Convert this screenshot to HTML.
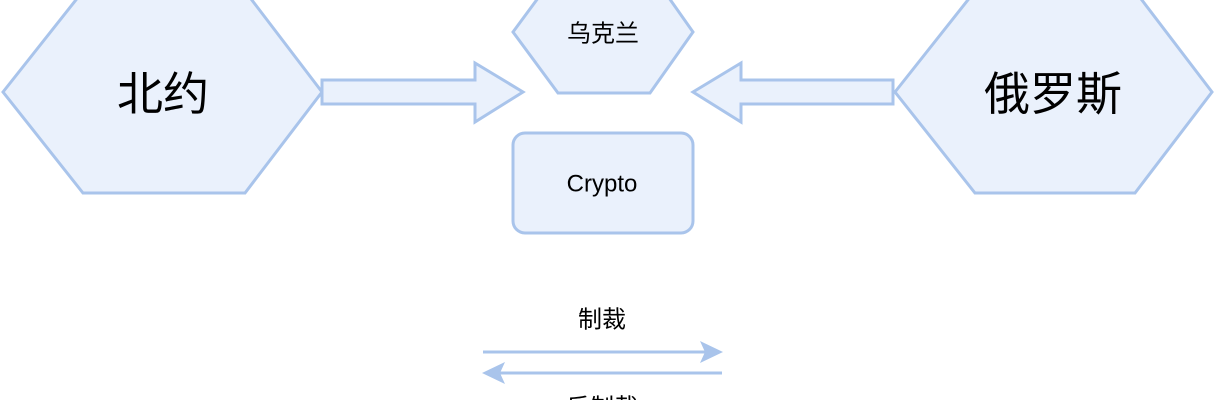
<!DOCTYPE html>
<html><head><meta charset="utf-8"><style>html,body{margin:0;padding:0;background:#fff;width:1214px;height:400px;overflow:hidden}svg{display:block;overflow:hidden}text{font-family:"Liberation Sans","Noto Sans CJK SC",sans-serif;fill:#000;text-anchor:middle;dominant-baseline:central}</style></head>
<body>
<svg width="1214" height="400" viewBox="0 0 1214 400">
<g fill="#eaf1fc" stroke="#a9c4eb" stroke-width="3">
<polygon points="3,92 83,-9 245,-9 322,92 245,193 83,193"/>
<polygon points="895,92 975,-9 1135,-9 1212,92 1135,193 975,193"/>
<polygon points="513,32 558,-29 650,-29 693,32 650,93 558,93"/>
<polygon points="322,80 475,80 475,63 523,92 475,122 475,104 322,104"/>
<polygon points="893,80 741,80 741,63 693,92 741,122 741,104 893,104"/>
<rect x="513" y="133" width="180" height="100" rx="12"/>
</g>
<g stroke="#a9c4eb" stroke-width="3" fill="#a9c4eb">
<line x1="483" y1="352" x2="705" y2="352"/>
<polygon points="723,352 700,341 705,352 700,363" stroke="none"/>
<line x1="500" y1="373" x2="722" y2="373"/>
<polygon points="482,373 505,362 500,373 505,384" stroke="none"/>
</g>
<text x="163" y="94" font-size="46">北约</text>
<text x="1053" y="94" font-size="46">俄罗斯</text>
<text x="603" y="34" font-size="24">乌克兰</text>
<text x="602" y="184" font-size="24">Crypto</text>
<text x="602" y="320" font-size="24">制裁</text>
<text x="602" y="408" font-size="24">反制裁</text>
</svg>
</body></html>
